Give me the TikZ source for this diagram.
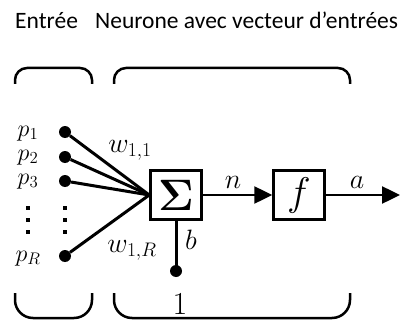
\documentclass[tikz,border=0pt]{standalone}
\usepackage{fix-cm}
\usepackage{amsmath}
\usepackage{fontspec}
\newfontfamily\titlefont{Carlito}
\usetikzlibrary{arrows.meta}

\begin{document}
\begin{tikzpicture}[x=1pt,y=-1pt,
  dot/.style={circle,fill,inner sep=0pt,minimum size=12pt},
  smalldot/.style={rectangle,fill,inner sep=0pt,minimum size=3.5pt},
  blockbox/.style={draw,line width=2.5pt,minimum width=51pt,minimum height=49pt,inner sep=0pt},
  mathlbl/.style={font=\fontsize{28}{30}\selectfont,inner sep=0pt},
  inlbl/.style={font=\fontsize{24}{26}\selectfont,inner sep=0pt},
  wire/.style={line width=3pt},
  sig/.style={line width=2.5pt,-{Triangle[length=18pt,width=17pt]}},
  brace/.style={line width=2.5pt,rounded corners=12pt},
  ttl/.style={anchor=base west,font=\titlefont\fontsize{23.5}{26}\selectfont,inner sep=0pt}]
\useasboundingbox (0,0) rectangle (407,321);
% titles
\node[ttl] (tin) at (15,29) {Entrée};
\node[ttl] (tneur) at (95,29) {Neurone avec vecteur d’entrées};
% brackets
\draw[brace] (15,84) -- (15,68) -- (92,68) -- (92,84);
\draw[brace] (114,84) -- (114,68) -- (350,68) -- (350,84);
\draw[brace,rounded corners=18pt] (15,293) -- (15,318) -- (92,318) -- (92,293);
\draw[brace,rounded corners=18pt] (114,293) -- (114,318) -- (350,318) -- (350,293);
% inputs
\node[dot] (p1) at (65,132) {};
\node[dot] (p2) at (65,157) {};
\node[dot] (p3) at (65,181) {};
\node[dot] (pR) at (65,256) {};
\node[inlbl,anchor=base] (lp1) at (28,136) {$p_1$};
\node[inlbl,anchor=base] (lp2) at (28,160) {$p_2$};
\node[inlbl,anchor=base] (lp3) at (28,184) {$p_3$};
\node[inlbl,anchor=base] (lpR) at (28,261) {$p_R$};
\foreach \i/\y in {1/208,2/220,3/232} {
  \node[smalldot] (dl\i) at (28,\y) {};
  \node[smalldot] (dr\i) at (65,\y) {};
}
% neuron
\node[blockbox,font=\fontsize{44}{44}\selectfont] (sum) at (176,195) {$\boldsymbol{\Sigma}$};
\node[blockbox,font=\fontsize{40}{40}\selectfont] (act) at (299,195) {$f$};
\draw[wire] (p1) -- (sum.west);
\draw[wire] (p2) -- (sum.west);
\draw[wire] (p3) -- (sum.west);
\draw[wire] (pR) -- (sum.west);
\node[mathlbl] (w11) at (130,150) {$w_{1,1}$};
\node[mathlbl] (w1R) at (132,250) {$w_{1,R}$};
\node[dot] (bias) at (176,271) {};
\draw[wire] (sum.south) -- (bias.center);
\node[mathlbl] (lb) at (191,240) {$b$};
\node[mathlbl,font=\fontsize{32}{34}\selectfont] (one) at (180,304) {$1$};
\coordinate (out) at (400,195);
\draw[sig] (sum.east) -- (act.west);
\draw[sig] (act.east) -- (out);
\node[mathlbl] (ln) at (233,182) {$n$};
\node[mathlbl] (la) at (357,182) {$a$};
\end{tikzpicture}
\end{document}
